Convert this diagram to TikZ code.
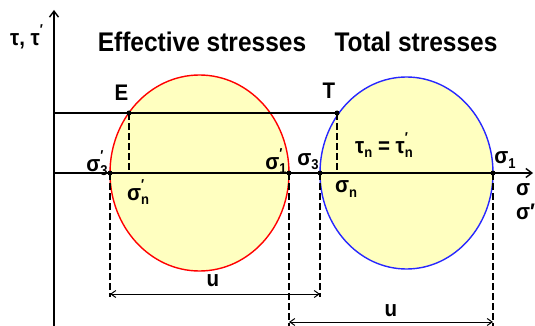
\documentclass[tikz,border=0pt]{standalone}
\usepackage{fontspec}
\setmainfont{Liberation Sans}
\usetikzlibrary{arrows.meta}
\newcommand{\sg}[2]{σ\rlap{\raisebox{0.9ex}{\fontsize{13}{13}\selectfont#2}}\raisebox{-0.35ex}{\fontsize{13}{13}\selectfont#1}}
\newcommand{\vs}[1]{\scalebox{1}[1.1]{#1}}
\begin{document}
\begin{tikzpicture}[x=1pt,y=-1pt,
  ax/.style={line width=1.4pt,black},
  dsh/.style={line width=1.2pt,dash pattern=on 7pt off 3pt},
  lbl/.style={font=\bfseries\fontsize{20.5}{20.5}\selectfont,inner sep=0pt},
  ttl/.style={font=\bfseries\fontsize{24.5}{24.5}\selectfont,inner sep=0pt},
  dot/.style={circle,fill=black,inner sep=0pt,minimum size=5pt},
  dim/.style={line width=1pt,{Straight Barb[length=5pt,width=7pt]}-{Straight Barb[length=5pt,width=7pt]}}]
\useasboundingbox (0,0) rectangle (535,326);
% circles
\filldraw[fill={rgb,255:red,255;green,255;blue,192},draw=red,line width=1.4pt] (199.5,173) ellipse [x radius=89.5,y radius=98];
\filldraw[fill={rgb,255:red,255;green,255;blue,192},draw={rgb,255:red,40;green,40;blue,255},line width=1.4pt] (406.5,173) ellipse [x radius=86.5,y radius=96];
% coordinates
\coordinate (O) at (54,173);
\coordinate (ytop) at (54,10);
\coordinate (ybot) at (54,326);
\coordinate (xend) at (533,173);
\coordinate (hl) at (54,113);
\node[dot] (E) at (129,113) {};
\node[dot] (T) at (337,113) {};
\node[dot] (s3p) at (110,173) {};
\node[dot] (s1p) at (289,173) {};
\node[dot] (s3) at (320,173) {};
\node[dot] (s1) at (493,173) {};
\coordinate (snp) at (129,173);
\coordinate (sn) at (337,173);
\coordinate (b3p) at (110,297);
\coordinate (b3) at (320,297);
\coordinate (b1p) at (289,326);
\coordinate (b1) at (493,326);
% axes
\draw[ax,-{Straight Barb[length=6pt,width=9pt]}] (ybot) -- (ytop);
\draw[ax,-{Straight Barb[length=6pt,width=9pt]}] (O) -- (xend);
\draw[ax] (hl) -- (T.center);
% dashed
\draw[dsh] (E.center) -- (snp);
\draw[dsh] (T.center) -- (sn);
\draw[dsh] (s3p.center) -- (b3p);
\draw[dsh] (s3.center) -- (b3);
\draw[dsh] (s1p.center) -- (b1p);
\draw[dsh] (s1.center) -- (b1);
% dimension lines
\coordinate (d1a) at (110,294);
\coordinate (d1b) at (320,294);
\coordinate (d2a) at (289,322);
\coordinate (d2b) at (493,322);
\draw[dim] (d1a) -- (d1b);
\draw[dim] (d2a) -- (d2b);
\node[lbl] (u1) at (213,281) {\vs{u}};
\node[lbl] (u2) at (391,311) {\vs{u}};
% titles
\node[ttl] (eff) at (202,42) {\vs{Effective stresses}};
\node[ttl] (tot) at (416,42) {\vs{Total stresses}};
\node[lbl,anchor=west] (tau) at (10,37) {\vs{τ, τ\rlap{\raisebox{0.9ex}{\fontsize{13}{13}\selectfont ′}}}};
\node[lbl] (Elbl) at (121.5,93) {\vs{E}};
\node[lbl] (Tlbl) at (329,91) {\vs{T}};
\node[lbl] (s3pl) at (97,163) {\vs{\sg{3}{′}}};
\node[lbl] (snpl) at (138,192) {\vs{\sg{n}{′}}};
\node[lbl] (s1pl) at (276,161) {\vs{\sg{1}{′}}};
\node[lbl] (s3l) at (308,162) {\vs{\sg{3}{}}};
\node[lbl] (snl) at (346,189) {\vs{\sg{n}{}}};
\node[lbl] (s1l) at (505,160) {\vs{\sg{1}{}}};
\node[lbl] (taun) at (384,145) {\vs{τ\raisebox{-0.35ex}{\fontsize{13}{13}\selectfont n} = τ\rlap{\raisebox{0.9ex}{\fontsize{13}{13}\selectfont ′}}\raisebox{-0.35ex}{\fontsize{13}{13}\selectfont n}}};
\node[lbl,anchor=west] (sx) at (516,190) {\vs{σ}};
\node[lbl,anchor=west] (sxp) at (516,212) {\vs{σ′}};
\end{tikzpicture}
\end{document}
